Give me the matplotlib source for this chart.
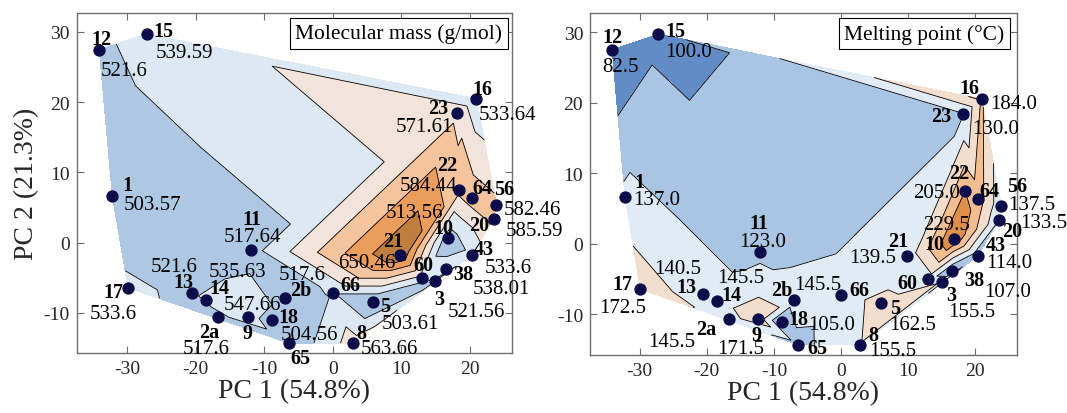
import numpy as np
import matplotlib
matplotlib.use("Agg")
import matplotlib.pyplot as plt
import matplotlib.tri as mtri

# -------------------------------------------------------
# Data: PCA scores and property values per compound
# -------------------------------------------------------
ids = ['12', '15', '1', '17', '13', '14', '2a', '9', '11', '2b', '18', '65', '66', '5',
       '8', '21', '60', '3', '38', '10', '43', '20', '56', '16', '23', '22', '64']
pc1 = [-34.1, -27.2, -32.2, -29.9, -20.6, -18.5, -16.7, -12.4, -12.0, -7.0, -8.8, -6.4, 0.0, 5.9,
       2.9, 9.85, 13.0, 15.0, 16.6, 16.8, 20.4, 23.5, 23.9, 21.0, 18.2, 18.5, 20.4]
pc2 = [27.5, 29.7, 6.7, -6.4, -7.1, -8.1, -10.6, -10.6, -1.1, -7.9, -11.0, -14.3, -7.2, -8.4,
       -14.3, -1.7, -5.0, -5.4, -3.8, 0.7, -1.7, 3.4, 5.4, 20.5, 18.4, 7.5, 6.4]
mass = [521.6, 539.59, 503.57, 533.6, 521.6, 535.63, 517.6, 547.66, 517.64, 517.6, 504.56, 505.0, 530.0, 503.61,
        563.66, 650.46, 545.0, 521.56, 538.01, 513.56, 533.6, 585.59, 582.46, 533.64, 571.61, 584.44, 590.0]
melt = [82.5, 100.0, 137.0, 172.5, 140.5, 145.5, 145.5, 171.5, 123.0, 145.5, 105.0, 123.0, 146.0, 162.5,
        155.5, 139.5, 145.0, 155.5, 107.0, 229.5, 114.0, 133.5, 137.5, 184.0, 130.0, 205.0, 195.0]
no_value = ['65', '66', '60', '64']   # compounds printed without a value

# -------------------------------------------------------
# Label placement (pixel offsets from marker, y down): id_dx, id_dy, val_dx, val_dy
# -------------------------------------------------------
offs_mass = {
    '12': (2, -13, 25, 18), '15': (17, -5, 38, 16), '1': (15, -13, 40, 6),
    '11': (1, -33, 1.5, -16.5), '13': (-8, -13, -18, -29), '14': (13, -14, 31.5, -31),
    '17': (-15, 2, -15, 23), '2a': (-9, 13, -12.5, 29), '9': (0, 14, 4.5, -15),
    '2b': (16, -10, 17, -26), '18': (16, -5, 37, 12), '65': (11.5, 13, 0, 0),
    '66': (18, -10, 0, 0), '5': (12, 2, 37.5, 19), '8': (9, -12, 37, 2.5),
    '21': (-7, -16, -33, 5), '10': (-4, -12, -33.5, -28), '60': (2, -15, 0, 0),
    '3': (4, 16, 41, 28), '38': (17, 3, 55, 17), '43': (11, -8, 36, 10),
    '20': (-14, 4, 41, 9), '56': (8, -17.5, 36, 2), '16': (6, -12, 31, 13.5),
    '23': (-19, -7, -32.5, 11), '22': (-12.5, -27, -31, -7.5), '64': (10, -12, 0, 0),
}
offs_melt = {
    '12': (0, -15, 8, 14), '15': (17, -5, 30, 15), '1': (14, -17, 32, 0),
    '11': (-2, -31, 2, -13), '17': (-18, -7, -18, 16), '13': (-16.5, -9, -25, -27.5),
    '14': (14.5, -8, 23.5, -26), '2a': (-23, 8, -57, 20), '9': (-1.5, 14, -17, 27),
    '2b': (-12, -12, 23.5, -18), '18': (16, -4.5, 50, 0), '65': (19, 1, 0, 0),
    '66': (18, -7, 0, 0), '5': (15, 3, 32, 19), '8': (13, -12, 32, 3.5),
    '21': (-9, -17, -34, -1), '60': (-21, 2, 0, 0), '3': (10, 11, 30.5, 27),
    '38': (22, 7, 55, 18), '43': (18, -13, 31, 4), '10': (-19, 3, -7, -17),
    '20': (14, 9, 45, 0), '16': (-12, -13, 32, 2), '23': (-22, 0, 32.5, 12.5),
    '22': (-6, -20, -28.5, -1), '56': (16, -22, 30, -4), '64': (12, -10, 0, 0),
}

cols_mass = ['#aec8e4', '#dce8f3', '#f2e4da', '#f4c49e', '#eb9e5c', '#bf7d3e']
cols_melt = ['#628cc6', '#a9c5e3', '#e1ebf5', '#f3dece', '#f2bd91', '#de8f4a']

plt.rcParams['font.family'] = ['Liberation Serif', 'DejaVu Serif']
plt.rcParams['axes.unicode_minus'] = False

fig = plt.figure(figsize=(10.67, 4.14), dpi=100)
ax1 = fig.add_axes([0.0719, 0.1449, 0.408, 0.8213])
ax2 = fig.add_axes([0.5530, 0.1408, 0.3999, 0.8254])

tri = mtri.Triangulation(pc1, pc2)


def draw_panel(ax, z, cols, offs, fmt, title, box_x):
    z = np.asarray(z)
    lev = np.linspace(z.min(), z.max(), 7)
    lev_f = lev.copy()
    lev_f[0] -= 1e-6
    lev_f[-1] += 1e-6
    ax.tricontourf(tri, z, levels=lev_f, colors=cols, zorder=1)
    ax.tricontour(tri, z, levels=lev[1:-1], colors='k', linewidths=0.6, zorder=2)
    ax.scatter(pc1, pc2, s=62, color='#0c0c4a', zorder=3)

    for i, name in enumerate(ids):
        idx, idy, vdx, vdy = offs[name]
        ax.annotate(name, (pc1[i], pc2[i]), xytext=(idx, -(idy + 7)),
                    textcoords='offset pixels', ha='center', va='baseline',
                    fontsize=14.5, fontweight='bold', zorder=4)
        if name not in no_value:
            ax.annotate(fmt % z[i], (pc1[i], pc2[i]), xytext=(vdx, -(vdy + 7)),
                        textcoords='offset pixels', ha='center', va='baseline',
                        fontsize=15, zorder=4)

    ax.text(box_x, 0.9685, title, transform=ax.transAxes, ha='right', va='top',
            fontsize=15.5, zorder=5,
            bbox=dict(boxstyle='square,pad=0.25', fc='white', ec='black', lw=0.8))

    ax.set_xlim(-37.4, 26.2)
    ax.set_ylim(-15.7, 32.7)
    ax.set_xticks([-30, -20, -10, 0, 10, 20])
    ax.set_yticks([-10, 0, 10, 20, 30])
    ax.tick_params(direction='in', top=True, right=True, length=5, width=0.8,
                   color='#6e6e6e', labelcolor='#262626', labelsize=14, pad=5)
    for sp in ax.spines.values():
        sp.set_color('#6e6e6e')
        sp.set_linewidth(1.0)
    ax.text(0.5, -0.11, 'PC 1 (54.8%)', transform=ax.transAxes, ha='center',
            va='center', fontsize=20, color='#262626')


draw_panel(ax1, mass, cols_mass, offs_mass, '%g', 'Molecular mass (g/mol)', 0.978)
draw_panel(ax2, melt, cols_melt, offs_melt, '%.1f', 'Melting point (\u00b0C)', 0.9717)

ax1.text(-0.114, 0.5, 'PC 2 (21.3%)', transform=ax1.transAxes, rotation=90,
         ha='center', va='center', fontsize=20, color='#262626')

fig.savefig('out.png', dpi=100)
